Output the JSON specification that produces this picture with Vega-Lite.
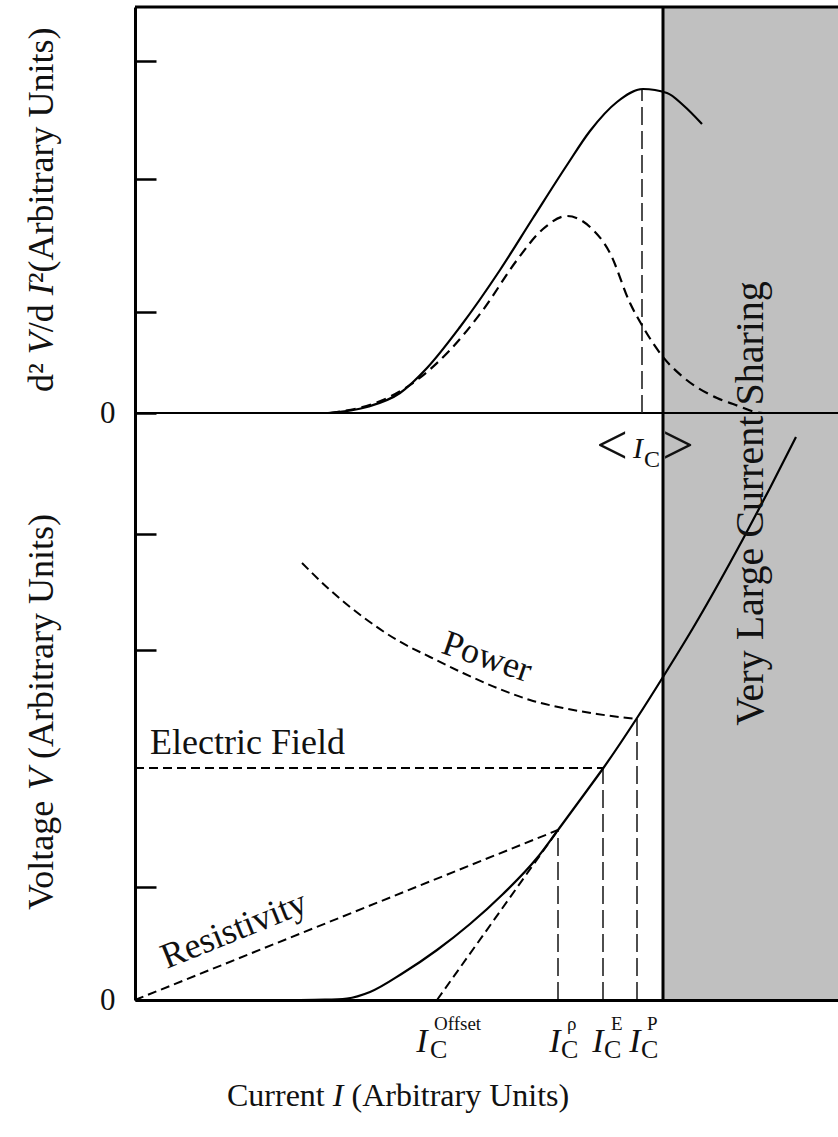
{
  "$schema": "https://vega.github.io/schema/vega-lite/v6.json",
  "width": 703,
  "height": 993,
  "autosize": {"type": "none"},
  "padding": {"left": 135, "top": 7, "right": 0, "bottom": 137},
  "background": "white",
  "config": {"view": {"stroke": null}, "font": "Liberation Serif"},
  "encoding": {
    "x": {"field": "I", "type": "quantitative", "scale": {"domain": [0, 703], "nice": false, "zero": false},
      "axis": {"title": null, "ticks": false, "labels": false, "grid": false, "domainColor": "black", "domainWidth": 3, "zindex": 2}},
    "y": {"field": "V", "type": "quantitative", "scale": {"domain": [0, 993], "nice": false, "zero": false},
      "axis": {"title": null, "grid": false, "values": [0, 113, 350, 466, 587, 688, 821, 939],
        "labelExpr": "datum.value == 0 || datum.value == 587 ? '0' : ''",
        "tickSize": -21, "tickWidth": 2.5, "tickColor": "black", "domainColor": "black", "domainWidth": 3,
        "labelFont": "Liberation Serif", "labelFontSize": 31, "labelColor": "#111", "labelPadding": 41, "zindex": 2}}
  },
  "layer": [
    {
      "data": {"values": [{"I": 528, "I2": 703, "V": 0, "V2": 993}]},
      "mark": {"type": "rect", "color": "#c0c0c0"},
      "encoding": {"x2": {"field": "I2"}, "y2": {"field": "V2"}}
    },
    {
      "data": {"values": [{"I": 528, "V": 0, "V2": 993}]},
      "mark": {"type": "rule", "color": "black", "strokeWidth": 3},
      "encoding": {"y2": {"field": "V2"}}
    },
    {
      "data": {"values": [{"I": 0, "I2": 703, "V": 587, "w": "zero"}, {"I": 0, "I2": 703, "V": 993, "w": "top"}]},
      "mark": {"type": "rule", "color": "black"},
      "encoding": {"x2": {"field": "I2"}, "strokeWidth": {"field": "w", "type": "nominal", "scale": {"domain": ["zero", "top"], "range": [2, 3]}, "legend": null}}
    },
    {
      "data": {"values": [
        {"I": 507, "V": 587, "V2": 911}, {"I": 423, "V": 0, "V2": 170}, {"I": 468, "V": 0, "V2": 232}, {"I": 502, "V": 0, "V2": 281}
      ]},
      "mark": {"type": "rule", "color": "#222", "strokeWidth": 1.6, "strokeDash": [18, 6]},
      "encoding": {"y2": {"field": "V2"}}
    },
    {
      "data": {"values": [
        {"s": "res", "I": 0, "V": 0}, {"s": "res", "I": 423, "V": 170},
        {"s": "tan", "I": 302, "V": 0}, {"s": "tan", "I": 423, "V": 170},
        {"s": "ef", "I": 0, "V": 232}, {"s": "ef", "I": 468, "V": 232},
        {"s": "pw", "I": 167, "V": 437}, {"s": "pw", "I": 195, "V": 410}, {"s": "pw", "I": 228, "V": 383},
        {"s": "pw", "I": 262, "V": 360}, {"s": "pw", "I": 295, "V": 343}, {"s": "pw", "I": 328, "V": 327},
        {"s": "pw", "I": 362, "V": 312}, {"s": "pw", "I": 395, "V": 300}, {"s": "pw", "I": 428, "V": 292},
        {"s": "pw", "I": 462, "V": 286}, {"s": "pw", "I": 502, "V": 281}
      ]},
      "mark": {"type": "line", "color": "black", "strokeWidth": 2, "strokeDash": [9, 5], "interpolate": "monotone"},
      "encoding": {"detail": {"field": "s"}}
    },
    {
      "data": {"values": [
        {"I": 195, "V": 587}, {"I": 248, "V": 600}, {"I": 282, "V": 620}, {"I": 315, "V": 650},
        {"I": 348, "V": 690}, {"I": 382, "V": 740}, {"I": 408, "V": 771}, {"I": 432, "V": 784},
        {"I": 455, "V": 773}, {"I": 475, "V": 747}, {"I": 495, "V": 697}, {"I": 508, "V": 673},
        {"I": 528, "V": 643}, {"I": 548, "V": 623}, {"I": 582, "V": 602}, {"I": 598, "V": 596},
        {"I": 628, "V": 587}, {"I": 693, "V": 587}
      ]},
      "mark": {"type": "line", "color": "black", "strokeWidth": 2.2, "strokeDash": [10, 6], "interpolate": "monotone"}
    },
    {
      "data": {"values": [
        {"I": 193, "V": 587}, {"I": 232, "V": 593}, {"I": 265, "V": 607}, {"I": 292, "V": 632},
        {"I": 325, "V": 673}, {"I": 365, "V": 730}, {"I": 398, "V": 782}, {"I": 432, "V": 835},
        {"I": 455, "V": 869}, {"I": 482, "V": 898}, {"I": 508, "V": 911}, {"I": 532, "V": 907},
        {"I": 548, "V": 895}, {"I": 567, "V": 876}
      ]},
      "mark": {"type": "line", "color": "black", "strokeWidth": 2.2, "interpolate": "monotone"}
    },
    {
      "data": {"values": [
        {"I": 165, "V": 0}, {"I": 190, "V": 0.3}, {"I": 212, "V": 1.5}, {"I": 235, "V": 8},
        {"I": 268, "V": 27}, {"I": 302, "V": 50}, {"I": 335, "V": 76}, {"I": 368, "V": 106},
        {"I": 402, "V": 142}, {"I": 423, "V": 170}, {"I": 452, "V": 209.5}, {"I": 468, "V": 231.5},
        {"I": 502, "V": 282}, {"I": 528, "V": 323}, {"I": 558, "V": 372}, {"I": 608, "V": 461},
        {"I": 635, "V": 512}, {"I": 661, "V": 563}
      ]},
      "mark": {"type": "line", "color": "black", "strokeWidth": 2.2, "interpolate": "monotone"}
    },
    {
      "data": {"values": [{"t": "Electric Field", "I": 15, "V": 246}]},
      "mark": {"type": "text", "font": "Liberation Serif", "fontSize": 36, "align": "left", "baseline": "alphabetic", "color": "#111"},
      "encoding": {"text": {"field": "t"}}
    },
    {
      "data": {"values": [
        {"t": "Current", "I": 92, "V": -106},
        {"t": "(Arbitrary Units)", "I": 216.5, "V": -106}
      ]},
      "mark": {"type": "text", "font": "Liberation Serif", "fontSize": 32, "align": "left", "baseline": "alphabetic", "color": "#111"},
      "encoding": {"text": {"field": "t"}}
    },
    {
      "data": {"values": [{"t": "I", "I": 197.8, "V": -106}]},
      "mark": {"type": "text", "font": "Liberation Serif", "fontStyle": "italic", "fontSize": 32, "align": "left", "baseline": "alphabetic", "color": "#111"},
      "encoding": {"text": {"field": "t"}}
    },
    {
      "data": {"values": [
        {"t": "d²", "I": -82, "V": 608},
        {"t": "/d", "I": -82, "V": 667.8},
        {"t": "²(Arbitrary Units)", "I": -82, "V": 716.8},
        {"t": "Voltage", "I": -82, "V": 90},
        {"t": "(Arbitrary Units)", "I": -82, "V": 241}
      ]},
      "mark": {"type": "text", "font": "Liberation Serif", "fontSize": 36, "angle": -90, "align": "left", "baseline": "alphabetic", "color": "#111"},
      "encoding": {"text": {"field": "t"}}
    },
    {
      "data": {"values": [
        {"t": "V", "I": -82, "V": 645.8},
        {"t": "I", "I": -82, "V": 704.8},
        {"t": "V", "I": -82, "V": 210}
      ]},
      "mark": {"type": "text", "font": "Liberation Serif", "fontStyle": "italic", "fontSize": 36, "angle": -90, "align": "left", "baseline": "alphabetic", "color": "#111"},
      "encoding": {"text": {"field": "t"}}
    },
    {
      "data": {"values": [{"t": "Very Large Current Sharing", "I": 628, "V": 496.5}]},
      "mark": {"type": "text", "font": "Liberation Serif", "fontSize": 40, "angle": -90, "align": "center", "baseline": "alphabetic", "color": "#111"},
      "encoding": {"text": {"field": "t"}}
    },
    {
      "data": {"values": [{"t": "Resistivity", "I": 99, "V": 70}]},
      "mark": {"type": "text", "font": "Liberation Serif", "fontSize": 36, "angle": -22, "align": "center", "baseline": "middle", "color": "#111"},
      "encoding": {"text": {"field": "t"}}
    },
    {
      "data": {"values": [{"t": "Power", "I": 352, "V": 343}]},
      "mark": {"type": "text", "font": "Liberation Serif", "fontSize": 36, "angle": 19, "align": "center", "baseline": "middle", "color": "#111"},
      "encoding": {"text": {"field": "t"}}
    },
    {
      "data": {"values": [{"t": "<", "I": 477, "V": 553}, {"t": ">", "I": 543, "V": 553}]},
      "mark": {"type": "text", "font": "Liberation Serif", "fontSize": 56, "align": "center", "baseline": "middle", "color": "#111"},
      "encoding": {"text": {"field": "t"}}
    },
    {
      "data": {"values": [{"t": "I", "I": 503, "V": 542}]},
      "mark": {"type": "text", "font": "Liberation Serif", "fontStyle": "italic", "fontSize": 30, "align": "center", "baseline": "alphabetic", "color": "#111"},
      "encoding": {"text": {"field": "t"}}
    },
    {
      "data": {"values": [{"t": "C", "I": 509, "V": 533}]},
      "mark": {"type": "text", "font": "Liberation Serif", "fontSize": 24, "align": "left", "baseline": "alphabetic", "color": "#111"},
      "encoding": {"text": {"field": "t"}}
    },
    {
      "data": {"values": [{"t": "I", "I": 287, "V": -52}, {"t": "I", "I": 420, "V": -52}, {"t": "I", "I": 463, "V": -52}, {"t": "I", "I": 500, "V": -52}]},
      "mark": {"type": "text", "font": "Liberation Serif", "fontStyle": "italic", "fontSize": 34, "align": "center", "baseline": "alphabetic", "color": "#111"},
      "encoding": {"text": {"field": "t"}}
    },
    {
      "data": {"values": [{"t": "C", "I": 295, "V": -58}, {"t": "C", "I": 426, "V": -58}, {"t": "C", "I": 469, "V": -58}, {"t": "C", "I": 506, "V": -58}]},
      "mark": {"type": "text", "font": "Liberation Serif", "fontSize": 26, "align": "left", "baseline": "alphabetic", "color": "#111"},
      "encoding": {"text": {"field": "t"}}
    },
    {
      "data": {"values": [{"t": "Offset", "I": 299, "V": -30}, {"t": "ρ", "I": 432, "V": -30}, {"t": "E", "I": 476, "V": -30}, {"t": "P", "I": 512, "V": -30}]},
      "mark": {"type": "text", "font": "Liberation Serif", "fontSize": 19, "align": "left", "baseline": "alphabetic", "color": "#111"},
      "encoding": {"text": {"field": "t"}}
    }
  ]
}
